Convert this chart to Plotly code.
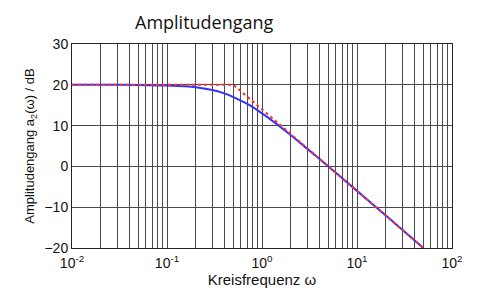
import plotly.graph_objects as go

# Data
omega_blue = [0.01, 0.02, 0.05, 0.1, 0.2, 0.3, 0.4, 0.5, 0.7, 1.0, 1.5, 2.0, 3.0, 5.0, 10.0, 20.0, 50.0]
amp_blue = [20.0, 20.0, 19.96, 19.8, 19.4, 18.7, 17.9, 17.0, 15.3, 13.0, 10.0, 7.7, 4.3, 0.0, -6.0, -12.0, -20.0]

omega_red = [0.01, 0.5, 50.0]
amp_red = [20.0, 20.0, -20.0]

decades = [0.01, 0.1, 1, 10, 100]
decade_labels = ["10<sup>-2</sup>", "10<sup>-1</sup>", "10<sup>0</sup>", "10<sup>1</sup>", "10<sup>2</sup>"]
y_ticks = [-20, -10, 0, 10, 20, 30]

tickvals, ticktext = [], []
for d, lab in zip(decades, decade_labels):
    tickvals.append(d)
    ticktext.append(lab)
    if d < 100:
        for k in range(2, 10):
            tickvals.append(d * k)
            ticktext.append("")

fig = go.Figure()
fig.add_trace(go.Scatter(x=omega_blue, y=amp_blue, mode="lines",
                         line=dict(color="#3333ff", width=2, shape="spline", smoothing=0.6)))
fig.add_trace(go.Scatter(x=omega_red, y=amp_red, mode="lines",
                         line=dict(color="#ff3030", width=2, dash="dot")))

axis_font = dict(family="Liberation Sans, Arial", size=14, color="#111111")
fig.update_layout(
    width=477, height=296,
    margin=dict(l=72, r=25, t=44, b=48),
    paper_bgcolor="white", plot_bgcolor="white",
    showlegend=False,
    xaxis=dict(type="log", range=[-2, 2], tickvals=tickvals, ticktext=ticktext,
               showgrid=True, gridcolor="#4a4a4a", gridwidth=1.2,
               showline=True, linecolor="#222222", mirror=True, linewidth=1,
               tickfont=axis_font, ticks="", zeroline=False, ticklabelstandoff=2,
               title=dict(text="Kreisfrequenz ω", font=dict(family="Liberation Sans, Arial", size=15, color="#111111"), standoff=0)),
    yaxis=dict(range=[-20, 30], tickvals=y_ticks,
               showgrid=True, gridcolor="#4a4a4a", gridwidth=1.2,
               showline=True, linecolor="#222222", mirror=True, linewidth=1,
               tickfont=axis_font, ticks="", zeroline=False,
               title=dict(text="Amplitudengang a<sub>2</sub>(ω) / dB", font=dict(family="Liberation Sans, Arial", size=13, color="#111111"), standoff=6)),
    annotations=[dict(text="Amplitudengang", xref="paper", yref="paper",
                      x=(204 - 72) / 380, y=1, yanchor="bottom", xanchor="center",
                      yshift=8, showarrow=False,
                      font=dict(family="Open Sans, Noto Sans", size=18, color="#111111"))],
)
fig.write_html("out.html")
